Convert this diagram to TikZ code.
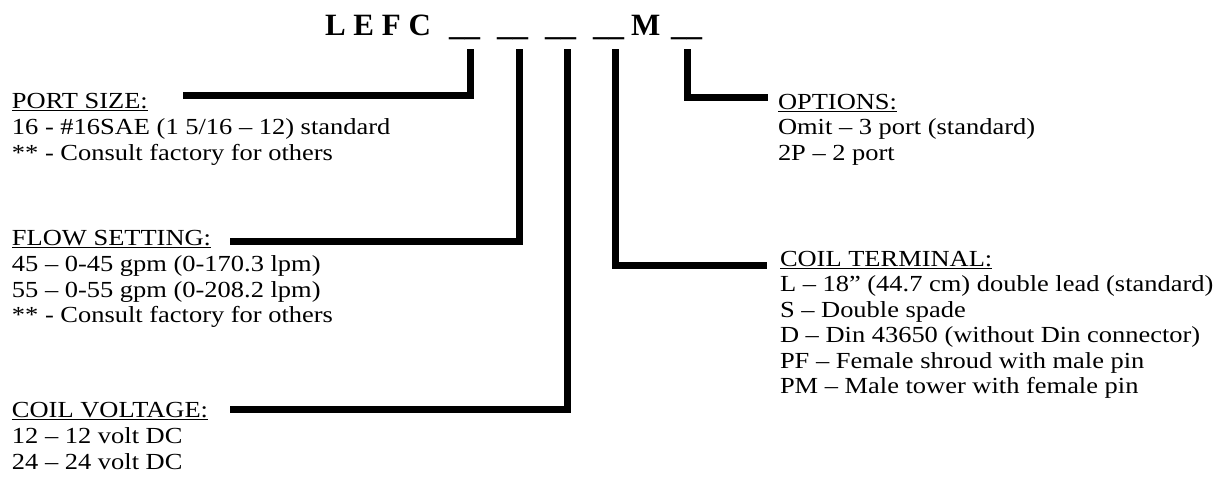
\documentclass[tikz,border=0pt]{standalone}
\usepackage{fontspec}
\setmainfont[FakeStretch=1.15]{Liberation Serif}
\newfontfamily\hdrfont{Liberation Serif}
\begin{document}
\begin{tikzpicture}[x=1pt,y=-1pt,
  txt/.style={anchor=base west,inner sep=0pt,outer sep=0pt,font=\fontsize{23}{25}\selectfont},
  hdr/.style={anchor=base west,inner sep=0pt,outer sep=0pt,font=\hdrfont\fontsize{31}{31}\selectfont\bfseries},
  conn/.style={line width=7pt,line join=miter,line cap=butt}]
\path[use as bounding box,fill=white] (0,0) rectangle (1227,485);
% header
\node[hdr] (code) at (325,35) {L E F C};
\node[hdr] (u1) at (449,35) {\_\_};
\node[hdr] (u2) at (497,35) {\_\_};
\node[hdr] (u3) at (545,35) {\_\_};
\node[hdr] (u4) at (593,35) {\_\_};
\node[hdr] (m) at (631,35) {M};
\node[hdr] (u5) at (671,35) {\_\_};
% port size
\node[txt] (psh) at (12,108) {\underline{PORT SIZE:}};
\node[txt] (ps1) at (12,134) {16 - \#16SAE (1 5/16 – 12) standard};
\node[txt] (ps2) at (12,160) {** - Consult factory for others};
% flow setting
\node[txt] (fsh) at (12,245) {\underline{FLOW SETTING:}};
\node[txt] (fs1) at (12,271) {45 – 0-45 gpm (0-170.3 lpm)};
\node[txt] (fs2) at (12,297) {55 – 0-55 gpm (0-208.2 lpm)};
\node[txt] (fs3) at (12,322) {** - Consult factory for others};
% coil voltage
\node[txt] (cvh) at (12,417) {\underline{COIL VOLTAGE:}};
\node[txt] (cv1) at (12,443) {12 – 12 volt DC};
\node[txt] (cv2) at (12,469) {24 – 24 volt DC};
% options
\node[txt] (oph) at (778,109) {\underline{OPTIONS:}};
\node[txt] (op1) at (778,134.5) {Omit – 3 port (standard)};
\node[txt] (op2) at (778,160) {2P – 2 port};
% coil terminal
\node[txt] (cth) at (780,266) {\underline{COIL TERMINAL:}};
\node[txt] (ct1) at (780,291.5) {L – 18” (44.7 cm) double lead (standard)};
\node[txt] (ct2) at (780,317) {S – Double spade};
\node[txt] (ct3) at (780,342.5) {D – Din 43650 (without Din connector)};
\node[txt] (ct4) at (780,368) {PF – Female shroud with male pin};
\node[txt] (ct5) at (780,393.5) {PM – Male tower with female pin};
% connectors
\coordinate (a1) at (470,49); \coordinate (b1) at (183,95);
\coordinate (a2) at (519,49); \coordinate (b2) at (230,241);
\coordinate (a3) at (567,49); \coordinate (b3) at (230,409);
\coordinate (a4) at (615,49); \coordinate (b4) at (767,265);
\coordinate (a5) at (687,49); \coordinate (b5) at (768,97);
\draw[conn] (a1) |- (b1);
\draw[conn] (a2) |- (b2);
\draw[conn] (a3) |- (b3);
\draw[conn] (a4) |- (b4);
\draw[conn] (a5) |- (b5);
\end{tikzpicture}
\end{document}
